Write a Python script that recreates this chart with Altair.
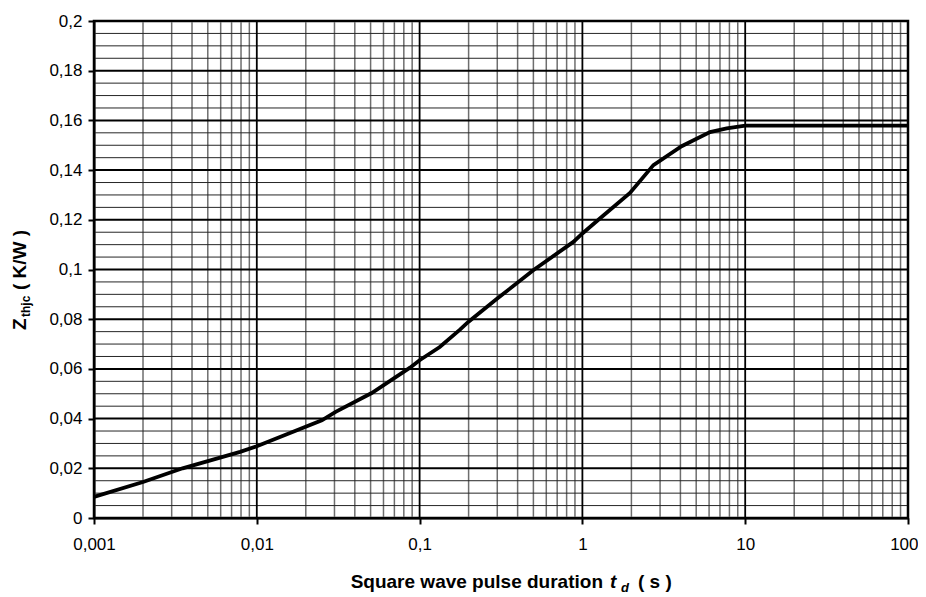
import altair as alt
import pandas as pd

# Curve (pulse duration in s, Zthjc in K/W)
t_s = [0.001, 0.002, 0.0035, 0.0079, 0.01, 0.0251, 0.0305, 0.0508, 0.0873, 0.1,
       0.133, 0.177, 0.199, 0.30, 0.499, 0.88, 1.0, 1.28, 1.96, 2.73,
       4.07, 6.08, 7.7, 10.0, 100.0]
z_kw = [0.0085, 0.0145, 0.0200, 0.0266, 0.0289, 0.0393, 0.0427, 0.0503, 0.0605, 0.0635,
        0.0688, 0.0758, 0.0789, 0.0883, 0.0997, 0.1111, 0.1145, 0.1205, 0.1308, 0.1420,
        0.1496, 0.1553, 0.1568, 0.1579, 0.1579]

x_major = [0.001, 0.01, 0.1, 1, 10, 100]
x_minor = [0.002, 0.003, 0.004, 0.005, 0.006, 0.007, 0.008, 0.009,
           0.02, 0.03, 0.04, 0.05, 0.06, 0.07, 0.08, 0.09,
           0.2, 0.3, 0.4, 0.5, 0.6, 0.7, 0.8, 0.9,
           2, 3, 4, 5, 6, 7, 8, 9,
           20, 30, 40, 50, 60, 70, 80, 90]
y_major = [0, 0.02, 0.04, 0.06, 0.08, 0.1, 0.12, 0.14, 0.16, 0.18, 0.2]
y_minor = [0.005, 0.01, 0.015, 0.025, 0.03, 0.035, 0.045, 0.05, 0.055,
           0.065, 0.07, 0.075, 0.085, 0.09, 0.095, 0.105, 0.11, 0.115,
           0.125, 0.13, 0.135, 0.145, 0.15, 0.155, 0.165, 0.17, 0.175,
           0.185, 0.19, 0.195]

FONT = "Liberation Sans"

xscale = alt.Scale(type="log", domain=[0.001, 100], nice=False)
yscale = alt.Scale(domain=[0, 0.2], nice=False, zero=False)

LABEL_EXPR = "replace(format(datum.value, '~g'), '.', ',')"
xaxis = alt.Axis(values=x_major, grid=False, tickSize=6, tickWidth=2,
                 tickColor="black", domainColor="black", domainWidth=2,
                 labelFont=FONT, labelFontSize=17, labelColor="black",
                 labelPadding=12, labelFlush=False, labelOverlap=False,
                 labelAlign={"condition": {"test": "datum.value == 100", "value": "right"},
                             "value": "center"},
                 labelOffset={"condition": {"test": "datum.value == 100", "value": 10},
                              "value": 0},
                 labelExpr=LABEL_EXPR, title=None)
yaxis = alt.Axis(values=y_major, grid=False, tickSize=6, tickWidth=2,
                 tickColor="black", domainColor="black", domainWidth=2,
                 labelFont=FONT, labelFontSize=17, labelColor="black",
                 labelPadding=6, labelFlush=False, labelOverlap=False,
                 labelExpr=LABEL_EXPR, title=None)

curve = pd.DataFrame({"t": t_s, "z": z_kw})

vminor = alt.Chart(pd.DataFrame({"v": x_minor})).mark_rule(
    color="#6e6e6e", strokeWidth=1.5
).encode(x=alt.X("v:Q", scale=xscale, axis=xaxis))

hminor = alt.Chart(pd.DataFrame({"v": y_minor})).mark_rule(
    color="#262626", strokeWidth=1
).encode(y=alt.Y("v:Q", scale=yscale, axis=yaxis))

vmajor = alt.Chart(pd.DataFrame({"v": x_major})).mark_rule(
    color="black", strokeWidth=1.8
).encode(x=alt.X("v:Q", scale=xscale, axis=xaxis))

hmajor = alt.Chart(pd.DataFrame({"v": y_major})).mark_rule(
    color="black", strokeWidth=2
).encode(y=alt.Y("v:Q", scale=yscale, axis=yaxis))

line = alt.Chart(curve).mark_line(color="black", strokeWidth=3.8).encode(
    x=alt.X("t:Q", scale=xscale, axis=xaxis),
    y=alt.Y("z:Q", scale=yscale, axis=yaxis),
    order=alt.Order("t:Q"),
)

# plot origin is at page (94, 21); positions below are relative to it
def txt(s, x, y, size, style="normal", angle=0, align="left"):
    kw = dict(font=FONT, fontSize=size, fontWeight="bold", fontStyle=style,
              color="black", align=align, baseline="alphabetic")
    if angle:
        kw["angle"] = angle
    return alt.Chart(pd.DataFrame({"s": [s]})).mark_text(**kw).encode(
        text="s:N", x=alt.value(x), y=alt.value(y))

xt1 = txt("Square wave pulse duration", 509, 567, 19, align="right")
xt2 = txt("t", 516, 567, 19, style="italic")
xt3 = txt("d", 527, 571, 13, style="italic")
xt4 = txt("( s )", 544, 567, 19)

yt1 = txt("Z", -68, 309, 19, angle=270)
yt2 = txt("thjc", -64, 296, 12, angle=270)
yt3 = txt("( K/W )", -68, 269, 19, angle=270)

chart = alt.layer(
    vminor, hminor, vmajor, hmajor, line, xt1, xt2, xt3, xt4, yt1, yt2, yt3
).properties(
    width=814, height=497,
    padding={"left": 86, "top": 13, "right": 10, "bottom": 76},
    autosize=alt.AutoSizeParams(type="none"),
).configure_view(stroke="black", strokeWidth=2.5)

chart.save("out.html", embed_options={"renderer": "svg", "actions": False})
